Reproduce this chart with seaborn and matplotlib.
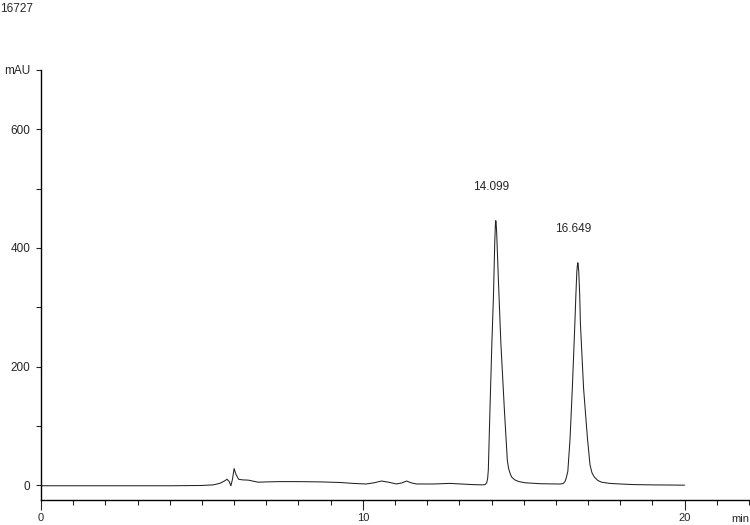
import pandas as pd
import matplotlib
matplotlib.use("Agg")
import matplotlib.pyplot as plt
from matplotlib.ticker import MultipleLocator
import seaborn as sns

# chromatogram trace (time in min, signal in mAU)
time_min = [0.0, 2.0, 4.0, 5.0, 5.35, 5.55, 5.70, 5.78, 5.85, 5.90, 5.95, 6.00,
            6.06, 6.14, 6.25, 6.44, 6.75, 7.0, 7.4, 8.0, 8.7, 9.3, 9.7, 10.1,
            10.35, 10.58, 10.8, 11.05, 11.22, 11.36, 11.5, 11.67, 12.2, 12.7,
            13.4, 13.70, 13.80, 13.85, 13.88, 13.90, 13.95, 14.01, 14.06, 14.10,
            14.12, 14.13, 14.14, 14.16, 14.18, 14.21, 14.29, 14.40, 14.49, 14.53,
            14.57, 14.62, 14.72, 14.85, 15.05, 15.5,
            16.0, 16.15, 16.23, 16.28, 16.31, 16.37, 16.44, 16.51, 16.59, 16.62,
            16.65, 16.67, 16.68, 16.69, 16.71, 16.74, 16.76, 16.86, 16.98, 17.06,
            17.12, 17.19, 17.30, 17.42, 17.67, 18.0, 18.4, 19.0, 20.0]
signal_mau = [-1, -1, -1, -0.5, 0.5, 3, 7, 10, 6, -1, 10, 28,
              18, 10, 9, 8.5, 5, 5.5, 6, 6, 5.5, 4.5, 3, 2,
              4, 7, 5, 2, 4, 7, 4, 2, 2, 3,
              1, 0.5, 1, 4, 12, 26, 126, 239, 320, 410,
              440, 446, 444, 425, 395, 350, 239, 126, 42, 28,
              21, 14, 9, 6, 4, 2.5,
              2, 2, 3, 6, 10, 23, 79, 163, 274, 320,
              360, 372, 375, 373, 360, 320, 274, 163, 79, 34,
              21, 14, 8, 5, 3, 2, 1, 0.5, 0]

# labelled peaks
peak_rt = [14.13, 16.68]
peak_height = [446, 375]
peak_labels = ["14.099", "16.649"]

y_ticks = [0, 100, 200, 300, 400, 500, 600, 700]
y_tick_labels = ["0", "", "200", "", "400", "", "600", "mAU"]
x_ticks = [0, 10, 20]

df = pd.DataFrame({"time": time_min, "mAU": signal_mau})

sns.set_style("white")
plt.rcParams["font.family"] = ["Liberation Sans", "DejaVu Sans"]

fig = plt.figure(figsize=(7.5, 5.25), dpi=100)
ax = fig.add_axes([41 / 750, 25 / 525, 708 / 750, 430 / 525])

sns.lineplot(data=df, x="time", y="mAU", color="#222222", linewidth=0.75, ax=ax)

ax.set_xlim(0, 22)
ax.set_ylim(-25, 700)
ax.set_xlabel("")
ax.set_ylabel("")

ax.set_xticks(x_ticks)
ax.set_xticklabels([str(t) for t in x_ticks])
ax.xaxis.set_minor_locator(MultipleLocator(1))
ax.tick_params(axis="x", which="major", direction="out", length=7.2, width=0.8,
               labelsize=8, pad=2.5, bottom=True)
ax.tick_params(axis="x", which="minor", direction="out", length=3.6, width=0.8,
               bottom=True)

ax.set_yticks(y_ticks)
ax.set_yticklabels(y_tick_labels)
ax.tick_params(axis="y", which="major", direction="out", length=3.6, width=0.8,
               labelsize=8.5, pad=4, left=True)

for side in ["top", "right"]:
    ax.spines[side].set_visible(False)
for side in ["left", "bottom"]:
    ax.spines[side].set_color("black")
    ax.spines[side].set_linewidth(1.0)

for rt, h, lab in zip(peak_rt, peak_height, peak_labels):
    ax.annotate(lab, xy=(rt, h), xytext=(-3, 24), textcoords="offset points",
                ha="center", va="center", fontsize=8.5)

ax.annotate("min", xy=(22, 0), xycoords=("data", "axes fraction"),
            xytext=(0, -14), textcoords="offset points",
            ha="right", va="center", fontsize=8, annotation_clip=False)

fig.text(0.0, 1 - 3 / 525, "16727", ha="left", va="top", fontsize=8.5)

fig.savefig("out.png", dpi=100)
plt.close(fig)
